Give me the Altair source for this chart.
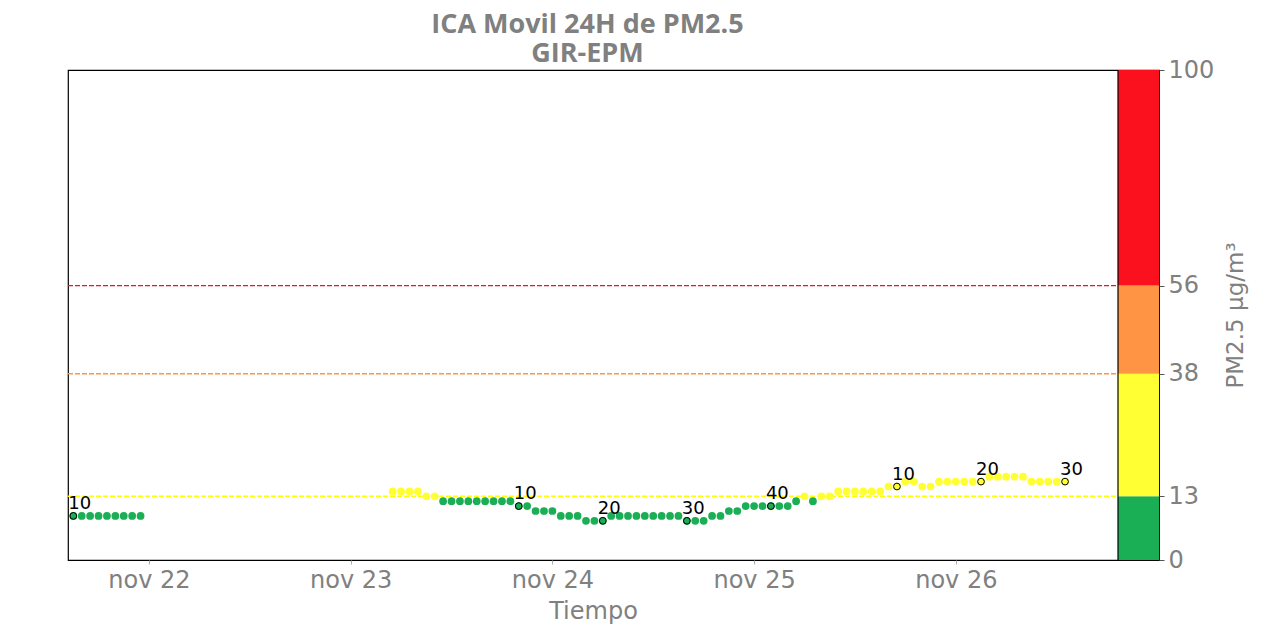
import altair as alt
import pandas as pd

# ---- data ----
base_day = "2023-11-22"
hours_a = list(range(-9, 0))
vals_a = [9, 9, 9, 9, 9, 9, 9, 9, 9]
hours_b = list(range(29, 110))
vals_b = [14, 14, 14, 14, 13, 13,
          12, 12, 12, 12, 12, 12, 12, 12, 12,
          11, 11, 10, 10, 10, 9, 9, 9, 8, 8, 8,
          9, 9, 9, 9, 9, 9, 9, 9, 9,
          8, 8, 8, 9, 9, 10, 10,
          11, 11, 11, 11, 11, 11, 12, 13, 12, 13, 13,
          14, 14, 14, 14, 14, 14, 15, 15, 16, 16, 15, 15,
          16, 16, 16, 16, 16, 16, 17, 17, 17, 17, 17,
          16, 16, 16, 16, 16]
label_hours = [-9, 44, 54, 64, 74, 89, 99, 109]
label_texts = ["10", "10", "20", "30", "40", "10", "20", "30"]

limits = [13, 38, 56]
limit_colors = ["#ffff00", "#ff9544", "#f01020"]
band_lo = [0, 13, 38, 56]
band_hi = [13, 38, 56, 100]
band_colors = ["#1aaf54", "#ffff33", "#ff9544", "#fb101e"]
y_ticks = [0, 13, 38, 56, 100]
day_ticks = [22, 23, 24, 25, 26]

GREEN = "#1aaf54"
YELLOW = "#ffff33"
GRAY = "#808080"

t0 = pd.Timestamp(base_day)
hours = hours_a + hours_b
vals = vals_a + vals_b
df = pd.DataFrame({
    "t": [(t0 + pd.Timedelta(hours=h)).strftime("%Y-%m-%dT%H:%M:%S") for h in hours],
    "v": vals,
})
df["c"] = [YELLOW if v >= 13 else GREEN for v in vals]
lab = dict(zip(label_hours, label_texts))
df["label"] = [lab.get(h, "") for h in hours]
df_lab = df[df["label"] != ""]

df_lim = pd.DataFrame({"y": limits, "c": limit_colors})
df_band = pd.DataFrame({"lo": band_lo, "hi": band_hi, "c": band_colors})

W_PLOT = 1050
W_BAR = 41
H = 490

xscale = alt.Scale(
    domain=[alt.DateTime(year=2023, month=11, date=21, hours=14, minutes=22),
            alt.DateTime(year=2023, month=11, date=26, hours=19, minutes=18)],
    range=[0, W_PLOT],
)
yscale = alt.Scale(domain=[0, 100], nice=False, zero=False)

x_enc = alt.X(
    "t:T", scale=xscale, title="Tiempo",
    axis=alt.Axis(
        values=[alt.DateTime(year=2023, month=11, date=d) for d in day_ticks],
        format="%b %d", labelExpr="lower(datum.label)",
        grid=False, domain=False, tickColor="#aaaaaa", tickSize=4,
        labelColor=GRAY, labelFontSize=24, labelFont="DejaVu Sans", labelPadding=4,
        titleColor=GRAY, titleFontSize=24, titleFont="DejaVu Sans",
        titleFontWeight="normal", titlePadding=7,
    ),
)

rules = alt.Chart(df_lim).mark_rule(strokeDash=[5, 2], strokeWidth=1.4).encode(
    y=alt.Y("y:Q", scale=yscale),
    x=alt.value(0), x2=alt.value(W_PLOT),
    color=alt.Color("c:N", scale=None),
)

pts = alt.Chart(df).mark_circle(size=60, opacity=1).encode(
    x=x_enc,
    y=alt.Y("v:Q", scale=yscale),
    color=alt.Color("c:N", scale=None),
)

pts_lab = alt.Chart(df_lab).mark_circle(size=45, opacity=1, stroke="black", strokeWidth=1).encode(
    x=alt.X("t:T", scale=xscale),
    y=alt.Y("v:Q", scale=yscale),
    fill=alt.Fill("c:N", scale=None),
)

txt = alt.Chart(df_lab).mark_text(
    align="left", baseline="alphabetic", dx=-5, dy=-7,
    fontSize=18, font="DejaVu Sans", color="black",
).encode(
    x=alt.X("t:T", scale=xscale),
    y=alt.Y("v:Q", scale=yscale),
    text="label:N",
)

bands = alt.Chart(df_band).mark_rect().encode(
    y=alt.Y(
        "lo:Q", scale=yscale, title="PM2.5 μg/m³",
        axis=alt.Axis(
            orient="right", values=y_ticks, grid=False, domain=False,
            tickColor="#555555", tickSize=5,
            labelColor=GRAY, labelFontSize=24, labelFont="DejaVu Sans", labelPadding=4,
            titleColor=GRAY, titleFontSize=23, titleFont="DejaVu Sans",
            titleFontWeight="normal", titlePadding=34, titleAngle=270,
        ),
    ),
    y2="hi:Q",
    x=alt.value(W_PLOT), x2=alt.value(W_PLOT + W_BAR),
    color=alt.Color("c:N", scale=None),
)

sep = alt.Chart(df_lim.head(1)).mark_rule(color="black", strokeWidth=1.2).encode(
    x=alt.value(W_PLOT), y=alt.value(0), y2=alt.value(H),
)

chart = alt.layer(rules, pts, pts_lab, txt, bands, sep).properties(
    width=W_PLOT + W_BAR,
    height=H,
    padding={"left": 67, "top": 11, "right": 5, "bottom": 5},
    title=alt.TitleParams(
        text=["ICA Movil 24H de PM2.5", "GIR-EPM"],
        anchor="middle", dx=-26, fontSize=27, font="Open Sans", fontWeight="bold",
        color=GRAY, lineHeight=29, offset=-10,
    ),
).configure_view(stroke="black", strokeWidth=1.2)

chart.save("out.html", embed_options={"renderer": "svg", "actions": False})
